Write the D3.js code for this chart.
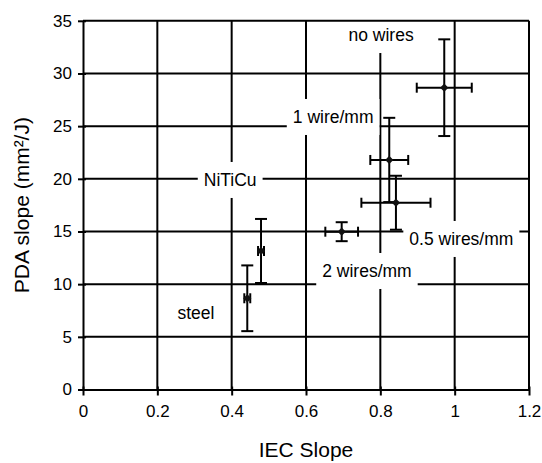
<!DOCTYPE html>
<html><head><meta charset="utf-8">
<script src="https://cdn.jsdelivr.net/npm/d3@7"></script>
<style>
body{margin:0;background:#fff}
text{font-family:"Liberation Sans",Arial,sans-serif;fill:#000}
</style></head><body>
<svg id="chart" width="542" height="463"></svg>
<script>
// Measured samples: IEC slope vs PDA slope, with standard deviations
const groups   = ["no wires", "1 wire/mm", "0.5 wires/mm", "2 wires/mm", "steel", "steel"];
const iecSlope = [0.972, 0.824, 0.842, 0.696, 0.442, 0.479];
const iecErr   = [0.074, 0.051, 0.093, 0.044, 0.008, 0.008];
const pdaSlope = [28.65, 21.79, 17.73, 14.98, 8.66, 13.15];
const pdaErr   = [4.59, 4.0, 2.56, 0.9, 3.12, 3.04];

const xTicks = [0, 0.2, 0.4, 0.6, 0.8, 1, 1.2];
const yTicks = [0, 5, 10, 15, 20, 25, 30, 35];

// Annotation texts and their anchors (data units)
const noteText = ["no wires", "1 wire/mm", "NiTiCu", "0.5 wires/mm", "2 wires/mm", "steel"];
const noteX    = [0.802, 0.673, 0.396, 1.018, 0.764, 0.304];
const noteY    = [33.65, 25.87, 19.89, 14.29, 11.25, 7.26];

const svg = d3.select("#chart");
const m = {left: 83, top: 20.8, right: 13, bottom: 73.5};
const W = 542 - m.left - m.right, H = 463 - m.top - m.bottom;
const g = svg.append("g").attr("transform", `translate(${m.left},${m.top})`);

const x = d3.scaleLinear().domain([0, 1.2]).range([0, W]);
const y = d3.scaleLinear().domain([0, 35]).range([H, 0]);

// grid
const grid = g.append("g").attr("stroke", "#000").attr("stroke-width", 2);
grid.selectAll(".gx").data(xTicks.slice(1, -1)).join("line")
  .attr("x1", d => x(d)).attr("x2", d => x(d)).attr("y1", 0).attr("y2", H);
grid.selectAll(".gy").data(yTicks.slice(1, -1)).join("line")
  .attr("y1", d => y(d)).attr("y2", d => y(d)).attr("x1", 0).attr("x2", W);

// annotation boxes
const notes = g.append("g").selectAll("g").data(noteText).join("g")
  .attr("transform", (d, i) => `translate(${x(noteX[i])},${y(noteY[i])})`);
notes.append("rect").attr("fill", "#fff");
notes.append("text").attr("text-anchor", "middle").attr("dy", "0.36em")
  .attr("font-size", 17.5).text(d => d);
notes.each(function() {
  const t = d3.select(this).select("text").node();
  const w = t.getComputedTextLength() + 12;
  d3.select(this).select("rect").attr("x", -w / 2).attr("width", w).attr("y", -18).attr("height", 36);
});

// frame: axes plus top and right borders
const frame = g.append("g").attr("stroke", "#000").attr("stroke-width", 2);
frame.append("line").attr("x1", 0).attr("x2", W).attr("y1", 0).attr("y2", 0);
frame.append("line").attr("x1", W).attr("x2", W).attr("y1", 0).attr("y2", H);

const xAxis = g.append("g").attr("transform", `translate(0,${H})`)
  .call(d3.axisBottom(x).tickValues(xTicks).tickFormat(d3.format("~g")).tickSizeInner(6).tickSizeOuter(0).tickPadding(9));
const yAxis = g.append("g")
  .call(d3.axisLeft(y).tickValues(yTicks).tickSizeInner(5).tickSizeOuter(0).tickPadding(6));
[xAxis, yAxis].forEach(a => {
  a.select(".domain").attr("stroke", "#000").attr("stroke-width", 2);
  a.selectAll(".tick line").attr("stroke", "#000").attr("stroke-width", 2);
  a.selectAll(".tick text").attr("font-size", 17).attr("fill", "#000")
    .style("font-family", '"Liberation Sans",Arial,sans-serif');
});
xAxis.selectAll(".tick line").attr("y1", -3);
yAxis.selectAll(".tick line").attr("x1", 3).attr("x2", -5);

// error bars
const pts = groups.map((k, i) => ({k, x: iecSlope[i], y: pdaSlope[i], ex: iecErr[i], ey: pdaErr[i]}));
const eb = g.append("g").attr("stroke", "#000").attr("stroke-width", 2).attr("fill", "none");
pts.forEach(p => {
  const cx = x(p.x), cy = y(p.y);
  const yt = y(p.y + p.ey), yb = y(p.y - p.ey), xl = x(p.x - p.ex), xr = x(p.x + p.ex);
  eb.append("line").attr("x1", cx).attr("x2", cx).attr("y1", yt).attr("y2", yb);
  eb.append("line").attr("x1", cx - 6).attr("x2", cx + 6).attr("y1", yt).attr("y2", yt);
  eb.append("line").attr("x1", cx - 6).attr("x2", cx + 6).attr("y1", yb).attr("y2", yb);
  eb.append("line").attr("x1", xl).attr("x2", xr).attr("y1", cy).attr("y2", cy);
  eb.append("line").attr("x1", xl).attr("x2", xl).attr("y1", cy - 5).attr("y2", cy + 5);
  eb.append("line").attr("x1", xr).attr("x2", xr).attr("y1", cy - 5).attr("y2", cy + 5);
});

// markers
g.append("g").selectAll("path").data(pts).join("path")
  .attr("d", d3.symbol(d3.symbolSquare, 34))
  .attr("transform", d => `translate(${x(d.x)},${y(d.y)}) rotate(45)`)
  .attr("fill", "#111");

// axis titles
svg.append("text").attr("x", m.left + W / 2).attr("y", 457).attr("text-anchor", "middle")
  .attr("font-size", 21).text("IEC Slope");
svg.append("text").attr("transform", `translate(29,${m.top + H / 2}) rotate(-90)`)
  .attr("text-anchor", "middle").attr("font-size", 21).text("PDA slope (mm²/J)");
</script>
</body></html>
